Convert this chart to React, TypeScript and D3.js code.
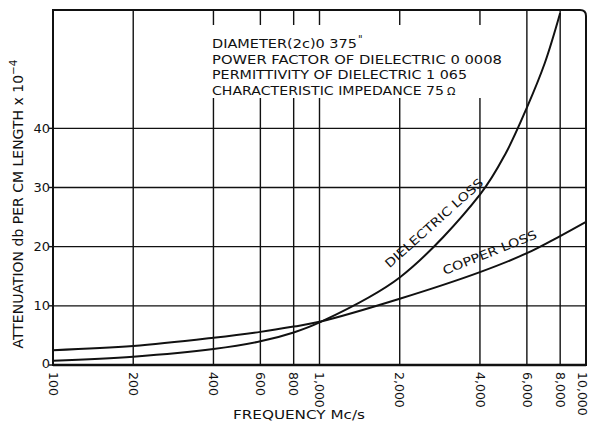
import React from "react";
import * as d3 from "d3";

const freqTicks = [100, 200, 400, 600, 800, 1000, 2000, 4000, 6000, 8000, 10000];
const freqLabels = ["100", "200", "400", "600", "800", "1,000", "2,000", "4,000", "6,000", "8,000", "10,000"];
const yTicks = [0, 10, 20, 30, 40];

const dielFreq = [100, 200, 400, 600, 800, 1000, 2000, 4000, 5000, 6000, 7000, 8000];
const dielectricLoss = [0.7, 1.4, 2.7, 4.0, 5.5, 7.2, 14.8, 28.8, 35.8, 43.5, 51, 59.5];

const copperFreq = [100, 200, 400, 600, 800, 1000, 2000, 4000, 6000, 8000, 10000];
const copperLoss = [2.5, 3.2, 4.6, 5.6, 6.5, 7.3, 11.2, 15.7, 18.9, 21.8, 24.2];

const noteLines = [
  "DIAMETER(2c)0 375",
  "POWER FACTOR OF DIELECTRIC 0 0008",
  "PERMITTIVITY OF DIELECTRIC 1 065",
  "CHARACTERISTIC IMPEDANCE 75",
];
const noteWidths = [145, 290, 255, 232];

// curve label anchors: [startFreq, startValue, endFreq, endValue]
const dielLabel = { text: "DIELECTRIC LOSS", f0: 1830, v0: 16.3, f1: 4150, v1: 30.6 };
const copLabel = { text: "COPPER LOSS", f0: 2950, v0: 15.2, f1: 6594, v1: 21.5 };

const W = 591, H = 422;
const L = 53, R = 586, T = 10, B = 365;
const FONT = "'DejaVu Sans', sans-serif";

export default function App() {
  const x = d3.scaleLog().domain([100, 10000]).range([L, R]);
  const y = d3.scaleLinear().domain([0, 60]).range([B, T]);

  const dielLine = d3
    .line<number>()
    .x((_, i) => x(dielFreq[i]))
    .y((d) => y(d))
    .curve(d3.curveCatmullRom.alpha(0.5));
  const copLine = d3
    .line<number>()
    .x((_, i) => x(copperFreq[i]))
    .y((d) => y(d))
    .curve(d3.curveCatmullRom.alpha(0.5));

  const labelGeom = (lb: { f0: number; v0: number; f1: number; v1: number }) => {
    const x0 = x(lb.f0), y0 = y(lb.v0), x1 = x(lb.f1), y1 = y(lb.v1);
    return {
      x0,
      y0,
      angle: (Math.atan2(y1 - y0, x1 - x0) * 180) / Math.PI,
      len: Math.hypot(x1 - x0, y1 - y0),
    };
  };
  const dl = labelGeom(dielLabel);
  const cl = labelGeom(copLabel);

  const boxX0 = 200, boxX1 = 506, boxY0 = 25, boxY1 = 98;

  return (
    <svg width={W} height={H} style={{ position: "absolute", left: 0, top: 0, background: "#fff" }}>
      <defs>
        <clipPath id="plot">
          <rect x={L} y={T} width={R - L} height={B - T} />
        </clipPath>
      </defs>
      {yTicks.filter((v) => v > 0).map((v) => (
        <line key={"h" + v} x1={L} x2={R} y1={y(v)} y2={y(v)} stroke="#111" strokeWidth={1.4} />
      ))}
      {freqTicks.slice(1, -1).map((f) => (
        <line key={"v" + f} x1={x(f)} x2={x(f)} y1={T} y2={B} stroke="#111" strokeWidth={1.4} />
      ))}
      <rect x={boxX0} y={boxY0} width={boxX1 - boxX0} height={boxY1 - boxY0} fill="#fff" />
      <path
        d={`M${L},${B} L${L},${T} L${R - 6},${T} Q${R},${T} ${R},${T + 6} L${R},${B} Z`}
        fill="none"
        stroke="#111"
        strokeWidth={2}
      />
      <line x1={L} x2={R} y1={B} y2={B} stroke="#111" strokeWidth={2.5} />
      <g clipPath="url(#plot)">
        <path d={dielLine(dielectricLoss) || ""} fill="none" stroke="#111" strokeWidth={2} />
        <path d={copLine(copperLoss) || ""} fill="none" stroke="#111" strokeWidth={2} />
      </g>
      {yTicks.map((v) => (
        <g key={"yt" + v}>
          <line x1={L - 4} x2={L} y1={y(v)} y2={y(v)} stroke="#111" strokeWidth={1.4} />
          <text
            x={L - 3}
            y={y(v) - (v === 0 ? 2 : 0)}
            dy="0.35em"
            textAnchor="end"
            fontFamily={FONT}
            fontSize={13}
            fill="#111"
          >
            {v}
          </text>
        </g>
      ))}
      {freqTicks.map((f, i) => (
        <text
          key={"xt" + f}
          transform={`translate(${x(f) + (i === freqTicks.length - 1 ? -4 : 0)},${B + 7}) rotate(90)`}
          dy="0.35em"
          textAnchor="start"
          fontFamily={FONT}
          fontSize={12.5}
          fill="#111"
        >
          {freqLabels[i]}
        </text>
      ))}
      <text x={299} y={419} textAnchor="middle" fontFamily={FONT} fontSize={12.5} fill="#111" textLength={132} lengthAdjust="spacingAndGlyphs">
        FREQUENCY Mc/s
      </text>
      <text
        transform={`translate(23,${(354 + 54) / 2}) rotate(-90)`}
        textAnchor="middle"
        fontFamily={FONT}
        fontSize={14}
        fill="#111"
      >
        ATTENUATION db PER CM LENGTH x 10
        <tspan dy={-6} fontSize={10.5}>−4</tspan>
      </text>
      {noteLines.map((t, i) => (
        <text
          key={"n" + i}
          x={212}
          y={48 + i * 15.7}
          fontFamily={FONT}
          fontSize={12}
          fill="#111"
          textLength={noteWidths[i]}
          lengthAdjust="spacingAndGlyphs"
        >
          {t}
        </text>
      ))}
      <text x={358} y={43} fontFamily={FONT} fontSize={10} fill="#111">"</text>
      <text x={447} y={95} fontFamily={FONT} fontSize={11} fill="#111">Ω</text>
      <text
        transform={`translate(${dl.x0},${dl.y0}) rotate(${dl.angle})`}
        fontFamily={FONT}
        fontSize={12}
        fill="#111"
        textLength={dl.len}
        lengthAdjust="spacingAndGlyphs"
      >
        {dielLabel.text}
      </text>
      <text
        transform={`translate(${cl.x0},${cl.y0}) rotate(${cl.angle})`}
        fontFamily={FONT}
        fontSize={12}
        fill="#111"
        textLength={cl.len}
        lengthAdjust="spacingAndGlyphs"
      >
        {copLabel.text}
      </text>
    </svg>
  );
}
